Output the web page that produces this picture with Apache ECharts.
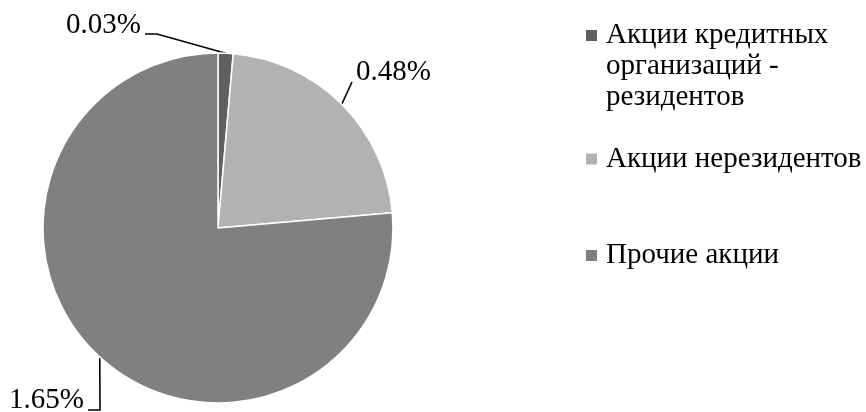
<!DOCTYPE html>
<html>
<head>
<meta charset="utf-8">
<script src="https://cdn.jsdelivr.net/npm/echarts@6/dist/echarts.min.js"></script>
<style>html,body{margin:0;padding:0;background:#fff;}#c{width:866px;height:412px;}</style>
</head>
<body>
<div id="c"></div>
<script>
// ---- data ----
const categories = ['Акции кредитных организаций - резидентов', 'Акции нерезидентов', 'Прочие акции'];
const legendLabels = ['\n\nАкции кредитных\nорганизаций -\nрезидентов', 'Акции нерезидентов', 'Прочие акции'];
const values = [0.03, 0.48, 1.65];
const valueLabels = ['0.03%', '0.48%', '1.65%'];
const colors = ['#5f5f5f', '#b2b2b2', '#808080'];

// ---- label placement (styles/positions) ----
const labelPos = [
  {x: 141, y: 25, align: 'right', line: [[157, 34], [145, 34]]},
  {x: 356, y: 72, align: 'left', line: [[352, 82]]},
  {x: 84, y: 400, align: 'right', line: [[100, 410], [88, 410]]}
];
const FONT = '"Liberation Serif", "Times New Roman", serif';

const chart = echarts.init(document.getElementById('c'), null, {renderer: 'canvas'});

function legendFor(i, top) {
  return {
    data: [categories[i]],
    left: 584, top: top, padding: 0,
    orient: 'vertical',
    icon: 'rect', itemWidth: 13, itemHeight: 13,
    selectedMode: false,
    formatter: name => legendLabels[categories.indexOf(name)],
    textStyle: {
      fontFamily: FONT, fontSize: 29, color: '#000', lineHeight: 31,
      padding: [0, 0, 0, 3]
    }
  };
}

chart.setOption({
  animation: false,
  backgroundColor: '#fff',
  color: colors,
  legend: [
    legendFor(0, -42),
    legendFor(1, 143.5),
    legendFor(2, 240)
  ],
  series: [{
    type: 'pie',
    center: [218, 228],
    radius: 175,
    startAngle: 90,
    clockwise: true,
    avoidLabelOverlap: false,
    itemStyle: {borderColor: '#fff', borderWidth: 1.5},
    emphasis: {disabled: true},
    label: {
      show: true, position: 'outside',
      fontFamily: FONT, fontSize: 29, color: '#000',
      formatter: p => valueLabels[p.dataIndex]
    },
    labelLine: {show: true, length: 10, length2: 10, smooth: false,
      lineStyle: {color: '#000', width: 1.6}},
    labelLayout: function (params) {
      const lp = labelPos[params.dataIndex];
      const p0 = params.labelLinePoints ? params.labelLinePoints[0] : null;
      const out = {x: lp.x, y: lp.y, align: lp.align, verticalAlign: 'middle'};
      if (p0) out.labelLinePoints = [p0].concat(lp.line);
      return out;
    },
    data: categories.map((n, i) => ({name: n, value: values[i]}))
  }]
});
</script>
</body>
</html>
